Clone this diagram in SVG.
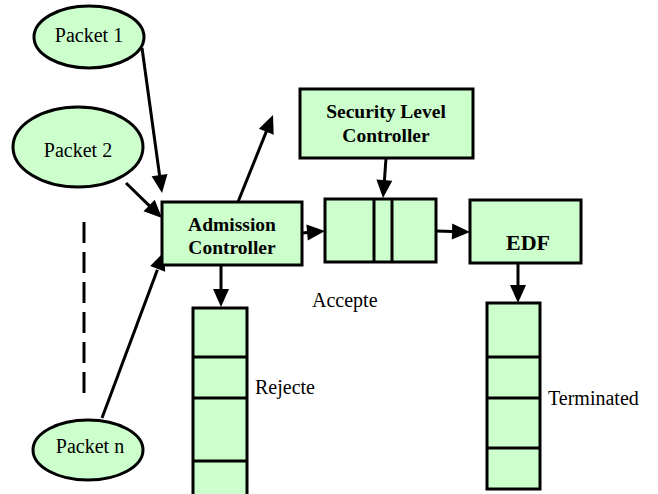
<svg xmlns="http://www.w3.org/2000/svg" width="658" height="494" viewBox="0 0 658 494">
<style>
.n{fill:#ccffcc;stroke:#000;stroke-width:3}
.c{stroke:#000;stroke-width:3;fill:none}
.h{fill:#000;stroke:none}
.t{font-family:'Liberation Serif','DejaVu Serif','Times New Roman',serif;font-size:20px;fill:#000}
.b{font-family:'Liberation Serif','DejaVu Serif','Times New Roman',serif;font-size:19.5px;font-weight:bold;fill:#000;text-anchor:middle}
</style>
<g id="connectors">
<line class="c" x1="142" y1="48" x2="159.8" y2="177"/>
<polygon class="h" points="162,193 151.6,176.3 167.5,174.1"/>
<line class="c" x1="126" y1="183" x2="150" y2="206.3"/>
<polygon class="h" points="162,218 143.5,211.2 154.7,199.7"/>
<line class="c" x1="102" y1="418" x2="157.4" y2="269.7"/>
<polygon class="h" points="164,252 165.2,271.7 150.2,266.1"/>
<line class="c" x1="238" y1="202" x2="266.6" y2="130.9"/>
<polygon class="h" points="273,115 273.7,134.7 258.9,128.7"/>
<line class="c" x1="302" y1="233" x2="308" y2="232.5"/>
<polygon class="h" points="325,231 307.8,240.5 306.4,224.6"/>
<line class="c" x1="386" y1="158" x2="384.4" y2="181"/>
<polygon class="h" points="383,198 376.4,179.5 392.3,180.7"/>
<line class="c" x1="436" y1="231" x2="453" y2="231.5"/>
<polygon class="h" points="470,232 451.8,239.5 452.2,223.5"/>
<line class="c" x1="221" y1="265" x2="221" y2="290"/>
<polygon class="h" points="221,307 213,289 229,289"/>
<line class="c" x1="518" y1="263" x2="518" y2="286"/>
<polygon class="h" points="518,303 510,285 526,285"/>
<line class="c" x1="84" y1="222" x2="84" y2="393" stroke-dasharray="21,9"/>
</g>
<g id="packet1"><ellipse class="n" cx="89" cy="37" rx="55" ry="31"/><text class="t" x="89" y="42" text-anchor="middle">Packet 1</text></g>
<g id="packet2"><ellipse class="n" cx="78" cy="147" rx="65" ry="40"/><text class="t" x="78" y="157" text-anchor="middle">Packet 2</text></g>
<g id="packetn"><ellipse class="n" cx="88" cy="450" rx="55" ry="30"/><text class="t" x="90" y="453" text-anchor="middle">Packet n</text></g>
<g id="admission"><rect class="n" x="162" y="202" width="140" height="63"/><text class="b" x="232" y="231">Admission</text><text class="b" x="232" y="254">Controller</text></g>
<g id="security"><rect class="n" x="300" y="89" width="173" height="69"/><text class="b" x="386" y="118">Security Level</text><text class="b" x="386" y="142">Controller</text></g>
<g id="queue"><rect class="n" x="325" y="199" width="111" height="63"/><line class="c" x1="374" y1="199" x2="374" y2="262"/><line class="c" x1="392" y1="199" x2="392" y2="262"/></g>
<g id="edf"><rect class="n" x="470" y="200" width="111" height="63"/><text class="b" x="528" y="250" style="font-size:22px">EDF</text></g>
<g id="rejected"><rect class="n" x="193" y="308" width="54" height="190"/><line class="c" x1="193" y1="357" x2="247" y2="357"/><line class="c" x1="193" y1="398" x2="247" y2="398"/><line class="c" x1="193" y1="461" x2="247" y2="461"/></g>
<g id="terminated"><rect class="n" x="487" y="303" width="53" height="186"/><line class="c" x1="487" y1="357" x2="540" y2="357"/><line class="c" x1="487" y1="398" x2="540" y2="398"/><line class="c" x1="487" y1="448" x2="540" y2="448"/></g>
<text class="t" x="312" y="307">Accepte</text>
<text class="t" x="255" y="394">Rejecte</text>
<text class="t" x="548" y="405">Terminated</text>
</svg>
